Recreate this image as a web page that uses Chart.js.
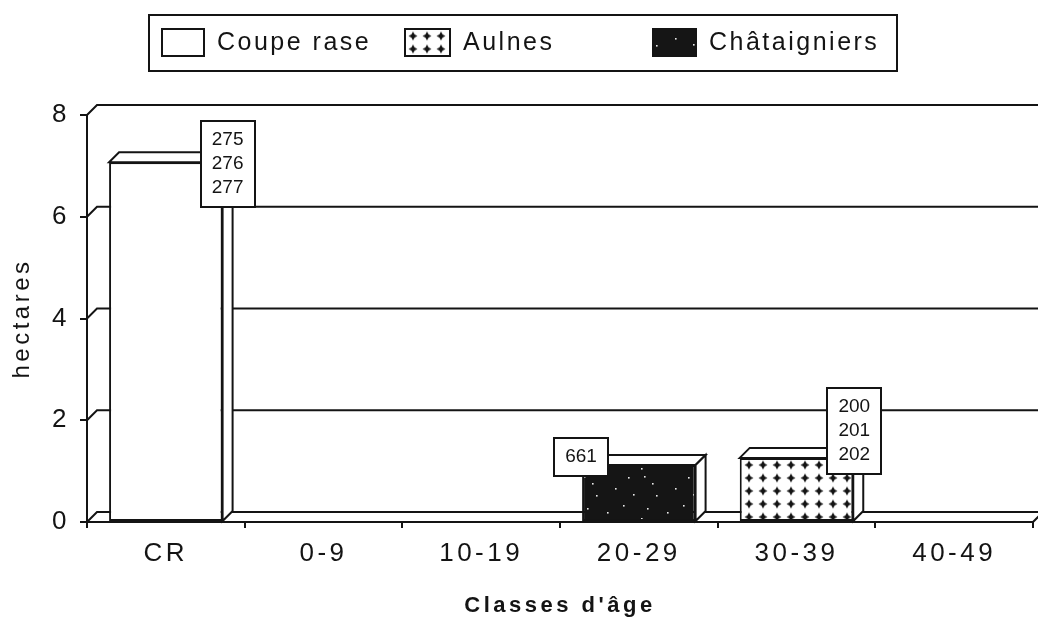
<!DOCTYPE html>
<html lang="fr">
<head>
<meta charset="utf-8">
<title>Classes d'âge</title>
<script src="https://cdn.jsdelivr.net/npm/chart.js@4.4.1/dist/chart.umd.min.js"></script>
<style>
  html, body { margin: 0; padding: 0; background: #fff; overflow: hidden; }
  canvas { display: block; }
</style>
</head>
<body>
<canvas id="ageChart" width="1038" height="619"></canvas>
<script>
/* ======================
   DONNEES
====================== */
const categories = ["CR", "0-9", "10-19", "20-29", "30-39", "40-49"];
const coupeRase = [7.07, 0, 0, 0, 0, 0];
const aulnes = [0, 0, 0, 0, 1.26, 0];
const chataigniers = [0, 0, 0, 1.12, 0, 0];
const yTicks = [0, 2, 4, 6, 8];
const parcelLabels = [["275", "276", "277"], [], [], ["661"], ["200", "201", "202"], []];

const INK = "#141414";
const FONT = "'Liberation Sans', Arial, sans-serif";
const DX = 10;   // profondeur 3D
const DY = -10;

Chart.defaults.font.family = FONT;
Chart.defaults.color = INK;

/* ======================
   MOTIFS
====================== */
function aulnesPattern() {
  const c = document.createElement("canvas");
  c.width = 14;
  c.height = 13;
  const g = c.getContext("2d");
  g.fillStyle = "#fff";
  g.fillRect(0, 0, 14, 13);
  g.fillStyle = INK;
  const cx = 7, cy = 6.5;
  g.beginPath();
  g.moveTo(cx, cy - 4.5);
  g.lineTo(cx + 1.6, cy - 1.6);
  g.lineTo(cx + 4.5, cy);
  g.lineTo(cx + 1.6, cy + 1.6);
  g.lineTo(cx, cy + 4.5);
  g.lineTo(cx - 1.6, cy + 1.6);
  g.lineTo(cx - 4.5, cy);
  g.lineTo(cx - 1.6, cy - 1.6);
  g.closePath();
  g.fill();
  const p = g.createPattern(c, "repeat");
  p.setTransform(new DOMMatrix().translate(0, 3.5));
  return p;
}

function chataigniersPattern() {
  const c = document.createElement("canvas");
  c.width = 60;
  c.height = 50;
  const g = c.getContext("2d");
  g.fillStyle = "#151515";
  g.fillRect(0, 0, 60, 50);
  g.fillStyle = "#e8e8e8";
  [[7, 12], [23, 5], [41, 18], [52, 33], [15, 38], [33, 44], [47, 8], [28, 27], [56, 45], [44, 26]].forEach(([x, y]) => {
    g.fillRect(x, y, 1.6, 1.6);
  });
  return g.createPattern(c, "repeat");
}

/* ======================
   MUR ET SOL 3D
====================== */
const wallPlugin = {
  id: "wall3d",
  beforeDraw(chart) {
    chart.ctx.letterSpacing = "3.5px";
  },
  beforeDatasetsDraw(chart) {
    const { ctx, chartArea: a, scales } = chart;
    const y = scales.y;
    ctx.save();
    ctx.strokeStyle = INK;
    ctx.lineWidth = 2;
    ctx.beginPath();
    y.ticks.forEach((t) => {
      const py = y.getPixelForValue(t.value);
      ctx.moveTo(a.left, py);
      ctx.lineTo(a.left + DX, py + DY);
      ctx.lineTo(chart.width + 5, py + DY);
    });
    ctx.moveTo(a.right, a.bottom);
    ctx.lineTo(a.right + DX, a.bottom + DY);
    ctx.stroke();
    ctx.restore();
  },
  afterDatasetsDraw(chart) {
    const { ctx } = chart;
    ctx.save();
    ctx.strokeStyle = INK;
    ctx.fillStyle = "#fff";
    ctx.lineWidth = 2;
    ctx.lineJoin = "miter";
    chart.data.datasets.forEach((ds, di) => {
      chart.getDatasetMeta(di).data.forEach((el, i) => {
        if (!ds.data[i]) return;
        const { x, y, base, width } = el.getProps(["x", "y", "base", "width"], true);
        const x0 = x - width / 2;
        const x1 = x + width / 2;
        // face du dessus
        ctx.beginPath();
        ctx.moveTo(x0, y);
        ctx.lineTo(x0 + DX, y + DY);
        ctx.lineTo(x1 + DX, y + DY);
        ctx.lineTo(x1, y);
        ctx.closePath();
        ctx.fill();
        ctx.stroke();
        // face de droite
        ctx.beginPath();
        ctx.moveTo(x1, y);
        ctx.lineTo(x1 + DX, y + DY);
        ctx.lineTo(x1 + DX, base + DY);
        ctx.lineTo(x1, base);
        ctx.closePath();
        ctx.fill();
        ctx.stroke();
      });
    });
    ctx.restore();
  },
};

/* ======================
   ETIQUETTES PARCELLES
====================== */
const parcelPlugin = {
  id: "parcels",
  afterDatasetsDraw(chart, args, opts) {
    const { ctx } = chart;
    ctx.save();
    ctx.letterSpacing = "0px";
    ctx.font = `19px ${FONT}`;
    ctx.textAlign = "center";
    ctx.textBaseline = "middle";
    ctx.lineWidth = 2;
    parcelLabels.forEach((lines, i) => {
      if (!lines.length) return;
      const di = chart.data.datasets.findIndex((ds) => ds.data[i] > 0);
      if (di < 0) return;
      const place = opts.placement[i];
      const el = chart.getDatasetMeta(di).data[i];
      const { x, y, width } = el.getProps(["x", "y", "width"], true);
      const edge = place.side === "left" ? x - width / 2 : x + width / 2;
      const w = 54;
      const h = lines.length * 24 + 14;
      const cx = edge + place.dx;
      const cy = y + place.dy;
      const left = Math.round(cx - w / 2);
      const top = Math.round(cy - h / 2);
      ctx.fillStyle = "#fff";
      ctx.fillRect(left, top, w, h);
      ctx.strokeStyle = INK;
      ctx.strokeRect(left, top, w, h);
      ctx.fillStyle = INK;
      lines.forEach((t, k) => {
        ctx.fillText(t, cx, top + 19 + k * 24);
      });
    });
    ctx.restore();
  },
};

/* ======================
   LEGENDE
====================== */
const legendPlugin = {
  id: "boxLegend",
  afterDraw(chart, args, opts) {
    const { ctx } = chart;
    ctx.save();
    ctx.strokeStyle = INK;
    ctx.lineWidth = 2;
    ctx.fillStyle = "#fff";
    ctx.fillRect(opts.frame.x, opts.frame.y, opts.frame.w, opts.frame.h);
    ctx.strokeRect(opts.frame.x, opts.frame.y, opts.frame.w, opts.frame.h);
    ctx.font = `25px ${FONT}`;
    ctx.letterSpacing = "2.5px";
    ctx.textBaseline = "alphabetic";
    chart.data.datasets.forEach((ds, i) => {
      const it = opts.items[i];
      ctx.fillStyle = ds.backgroundColor;
      ctx.fillRect(it.x, opts.swatchY, it.w, opts.swatchH);
      ctx.strokeRect(it.x, opts.swatchY, it.w, opts.swatchH);
      ctx.fillStyle = INK;
      ctx.fillText(ds.label, it.x + it.w + 13, opts.textY);
    });
    ctx.restore();
  },
};

/* ======================
   GRAPHIQUE
====================== */
const ctx = document.getElementById("ageChart");

new Chart(ctx, {
  type: "bar",
  data: {
    labels: categories,
    datasets: [
      { label: "Coupe rase", data: coupeRase, backgroundColor: "#fff" },
      { label: "Aulnes", data: aulnes, backgroundColor: aulnesPattern() },
      { label: "Châtaigniers", data: chataigniers, backgroundColor: chataigniersPattern() },
    ].map((d) => ({
      ...d,
      borderColor: INK,
      borderWidth: 2,
      borderSkipped: false,
      barPercentage: 0.72,
      categoryPercentage: 1,
    })),
  },
  options: {
    responsive: false,
    animation: false,
    layout: { padding: { top: 115, right: 5, left: 0, bottom: 0 } },
    plugins: {
      legend: { display: false },
      tooltip: { enabled: false },
      parcels: {
        placement: [
          { side: "right", dx: 5, dy: 2 },
          null,
          null,
          { side: "left", dx: -1, dy: -8 },
          { side: "right", dx: 1, dy: -27 },
          null,
        ],
      },
      boxLegend: {
        frame: { x: 149, y: 15, w: 748, h: 56 },
        items: [
          { x: 162, w: 42 },
          { x: 405, w: 45 },
          { x: 653, w: 43 },
        ],
        swatchY: 29,
        swatchH: 27,
        textY: 50,
      },
    },
    scales: {
      x: {
        stacked: true,
        grid: {
          drawOnChartArea: false,
          drawTicks: true,
          tickLength: 6,
          color: INK,
          lineWidth: 2,
        },
        border: { display: true, color: INK, width: 2 },
        ticks: { color: INK, font: { size: 26 }, padding: 10 },
        title: {
          display: true,
          text: "Classes d'âge",
          color: INK,
          font: { size: 22, weight: "bold" },
          padding: { top: 0, bottom: 0 },
        },
        afterFit: (s) => {
          s.height = 97;
        },
      },
      y: {
        stacked: true,
        min: yTicks[0],
        max: yTicks[yTicks.length - 1],
        afterBuildTicks: (s) => {
          s.ticks = yTicks.map((v) => ({ value: v }));
        },
        grid: {
          drawOnChartArea: false,
          drawTicks: true,
          tickLength: 7,
          color: INK,
          lineWidth: 2,
        },
        border: { display: true, color: INK, width: 2 },
        ticks: { color: INK, font: { size: 26 }, padding: 10 },
        title: {
          display: true,
          text: "hectares",
          color: INK,
          font: { size: 24 },
          padding: { top: 8, bottom: 0 },
        },
        afterFit: (s) => {
          s.width = 87;
        },
      },
    },
  },
  plugins: [wallPlugin, parcelPlugin, legendPlugin],
});
</script>
</body>
</html>
